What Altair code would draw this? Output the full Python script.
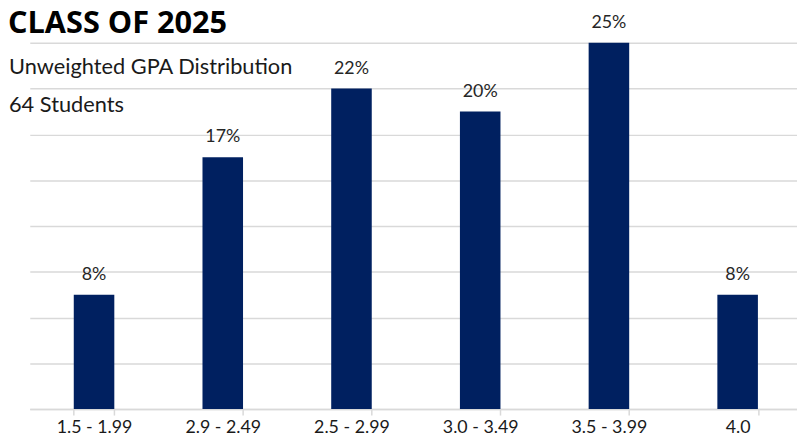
import altair as alt
import pandas as pd

categories = ["1.5 - 1.99", "2.9 - 2.49", "2.5 - 2.99", "3.0 - 3.49", "3.5 - 3.99", "4.0"]
percents = [7.81, 17.19, 21.88, 20.31, 25.0, 7.81]
labels = ["8%", "17%", "22%", "20%", "25%", "8%"]
grid_values = [0, 3.125, 6.25, 9.375, 12.5, 15.625, 18.75, 21.875, 25]
title_text = ["CLASS OF 2025"]
subtitle_1 = ["Unweighted GPA Distribution"]
subtitle_2 = ["64 Students"]

df = pd.DataFrame({"cat": categories, "pct": percents, "label": labels})

FONT = "Lato"

x = alt.X("cat:N", sort=categories, title=None,
          scale=alt.Scale(paddingInner=0.685, paddingOuter=0.3227, align=0.5295),
          axis=alt.Axis(labelAngle=0, labelFontSize=18, labelColor="#1a1a1a",
                        labelFont=FONT, labelPadding=18, labelBaseline="alphabetic",
                        domainColor="#d9d9d9",
                        domainWidth=1.5, tickColor="#d9d9d9", tickWidth=1.5,
                        tickSize=6, tickBand="extent", grid=False))
y = alt.Y("pct:Q", title=None,
          scale=alt.Scale(domain=[0, 25], nice=False),
          axis=alt.Axis(values=grid_values, labels=False, ticks=False, domain=False,
                        grid=True, gridColor="#d9d9d9", gridWidth=1.5))

bars = alt.Chart(df).mark_bar(color="#002060").encode(x=x, y=y)
text = alt.Chart(df).mark_text(baseline="alphabetic", dy=-15, fontSize=18, font=FONT,
                               color="#262626").encode(x=x, y=y, text="label:N")

ttl = alt.Chart(pd.DataFrame({"line": title_text})).mark_text(
    align="left", baseline="alphabetic", fontSize=31, font="Open Sans",
    fontWeight="bold", color="#000000").encode(
    x=alt.value(-22), y=alt.value(-10), text="line:N")
sub1 = alt.Chart(pd.DataFrame({"line": subtitle_1})).mark_text(
    align="left", baseline="middle", fontSize=22, font=FONT, color="#1a1a1a").encode(
    x=alt.value(-21), y=alt.value(24), text="line:N")
sub2 = alt.Chart(pd.DataFrame({"line": subtitle_2})).mark_text(
    align="left", baseline="middle", fontSize=22, font=FONT, color="#1a1a1a").encode(
    x=alt.value(-21), y=alt.value(63), text="line:N")

chart = alt.layer(bars, text, ttl, sub1, sub2).properties(
    width=775, height=370,
    autosize=alt.AutoSizeParams(type="none"),
    padding={"left": 22, "right": 0, "top": 33, "bottom": 25},
).configure_view(stroke=None)

chart.save("out.html", embed_options={"renderer": "svg", "actions": False})
